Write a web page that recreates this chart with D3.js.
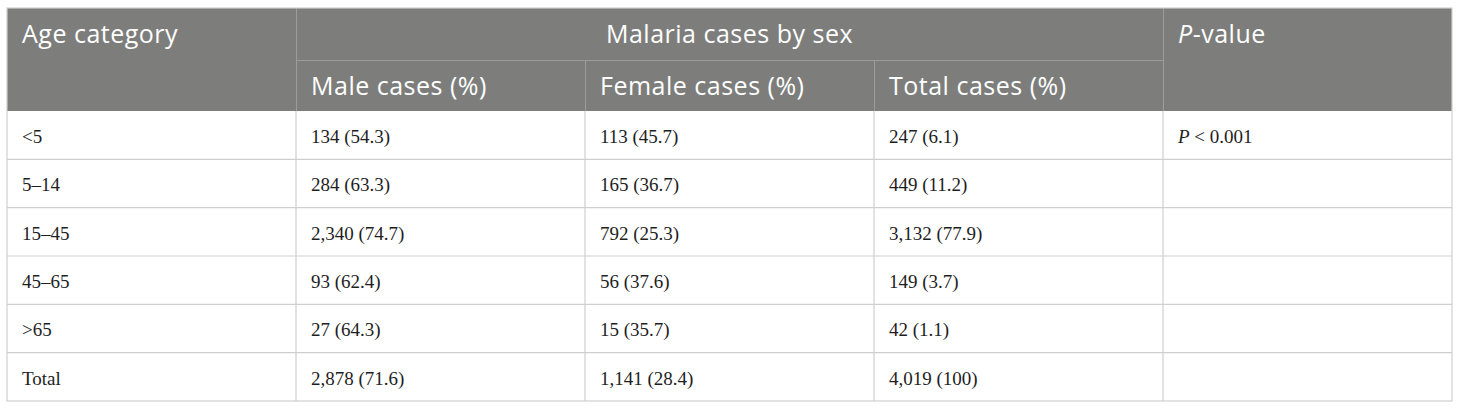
<!DOCTYPE html>
<html>
<head>
<meta charset="utf-8">
<script src="https://cdn.jsdelivr.net/npm/d3@7"></script>
<style>
  html, body { margin: 0; padding: 0; background: #fff; }
  svg { display: block; }
</style>
</head>
<body>
<div class="container"></div>
<script>
// table data
var ageCategories = ["<5", "5\u201314", "15\u201345", "45\u201365", ">65", "Total"];
var maleCount   = [134, 284, 2340, 93, 27, 2878];
var malePct     = [54.3, 63.3, 74.7, 62.4, 64.3, 71.6];
var femaleCount = [113, 165, 792, 56, 15, 1141];
var femalePct   = [45.7, 36.7, 25.3, 37.6, 35.7, 28.4];
var totalCount  = [247, 449, 3132, 149, 42, 4019];
var totalPct    = [6.1, 11.2, 77.9, 3.7, 1.1, 100];
var pValues     = ["< 0.001", "", "", "", "", ""];

var columns = ["age", "male", "female", "total", "p"];
var subHeaders = ["Male cases (%)", "Female cases (%)", "Total cases (%)"];

var loadTable = function(){
    var width = 1460, height = 409;
    var left = 7, right = 1452, top = 8, headMid = 60, headBottom = 111, bottom = 401;
    var pad = 15;
    var headFill = '#7d7e7c', headLine = '#9c9c9b', bodyLine = '#cfcfcf';

    var fmtN = d3.format(",");
    var fmtP = function(v){ return v === 100 ? "100" : d3.format(".1f")(v); };
    var cell = function(n, p){ return fmtN(n) + " (" + fmtP(p) + ")"; };

    var rows = ageCategories.map(function(a, i){
        return { age: a, male: cell(maleCount[i], malePct[i]),
                 female: cell(femaleCount[i], femalePct[i]),
                 total: cell(totalCount[i], totalPct[i]), p: pValues[i] };
    });

    var x = d3.scaleBand().domain(columns).range([left, right]);
    var y = d3.scaleBand().domain(d3.range(rows.length)).range([headBottom, bottom]);

    var svg = d3.select('.container')
                .append('svg')
                .attr('width', width)
                .attr('height', height);

    // header background
    svg.append('rect')
        .attr('x', left).attr('y', top)
        .attr('width', right - left).attr('height', headBottom - top)
        .attr('fill', headFill);

    // header inner lines
    var hg = svg.append('g').attr('stroke', headLine).attr('stroke-width', 1);
    hg.append('line')
        .attr('x1', x('male')).attr('x2', x('p'))
        .attr('y1', headMid + 0.5).attr('y2', headMid + 0.5);
    hg.selectAll('line.v')
        .data(['male', 'p'])
        .enter().append('line').attr('class', 'v')
        .attr('x1', function(d){ return Math.round(x(d)) + 0.5; })
        .attr('x2', function(d){ return Math.round(x(d)) + 0.5; })
        .attr('y1', top).attr('y2', headBottom);
    hg.selectAll('line.v2')
        .data(['female', 'total'])
        .enter().append('line').attr('class', 'v2')
        .attr('x1', function(d){ return Math.round(x(d)) + 0.5; })
        .attr('x2', function(d){ return Math.round(x(d)) + 0.5; })
        .attr('y1', headMid).attr('y2', headBottom);

    // header text
    var ht = svg.append('g')
        .attr('fill', '#fff')
        .attr('font-family', '"Open Sans", "Noto Sans", sans-serif')
        .attr('font-size', 25)
        .attr('letter-spacing', 0.5);
    ht.append('text')
        .attr('x', x('age') + pad).attr('y', top + 35)
        .text('Age category');
    ht.append('text')
        .attr('x', (x('male') + x('p')) / 2).attr('y', top + 35)
        .attr('text-anchor', 'middle')
        .text('Malaria cases by sex');
    var pv = ht.append('text')
        .attr('x', x('p') + pad).attr('y', top + 35);
    pv.append('tspan').attr('font-style', 'italic').text('P');
    pv.append('tspan').text('-value');
    ht.selectAll('text.sub')
        .data(subHeaders)
        .enter().append('text').attr('class', 'sub')
        .attr('x', function(d, i){ return x(columns[i + 1]) + pad; })
        .attr('y', headMid + 35)
        .text(function(d){ return d; });

    // body lines
    var bg = svg.append('g').attr('stroke', bodyLine).attr('stroke-width', 1.2).attr('fill', 'none');
    bg.selectAll('line.h')
        .data(d3.range(1, rows.length))
        .enter().append('line').attr('class', 'h')
        .attr('x1', left).attr('x2', right)
        .attr('y1', function(d){ return y(d); })
        .attr('y2', function(d){ return y(d); });
    bg.selectAll('line.cv')
        .data(columns.slice(1))
        .enter().append('line').attr('class', 'cv')
        .attr('x1', function(d){ return x(d); })
        .attr('x2', function(d){ return x(d); })
        .attr('y1', headBottom).attr('y2', bottom);
    bg.append('rect')
        .attr('x', left).attr('y', top)
        .attr('width', right - left).attr('height', bottom - top);

    // body text
    var body = svg.append('g')
        .attr('fill', '#1e1e1e')
        .attr('font-family', '"Liberation Serif", "Times New Roman", serif')
        .attr('font-size', 19);
    var rg = body.selectAll('g.row')
        .data(rows)
        .enter().append('g').attr('class', 'row')
        .attr('transform', function(d, i){ return 'translate(0,' + (y(i) + 32) + ')'; });
    rg.selectAll('text')
        .data(function(d){ return columns.slice(0, 4).map(function(c){ return { c: c, v: d[c] }; }); })
        .enter().append('text')
        .attr('x', function(d){ return x(d.c) + pad; })
        .text(function(d){ return d.v; });
    rg.filter(function(d){ return d.p !== ""; })
        .append('text')
        .attr('x', x('p') + pad)
        .each(function(d){
            var t = d3.select(this);
            t.append('tspan').attr('font-style', 'italic').text('P');
            t.append('tspan').text(' ' + d.p);
        });
}
window.onload = loadTable;
</script>
</body>
</html>
